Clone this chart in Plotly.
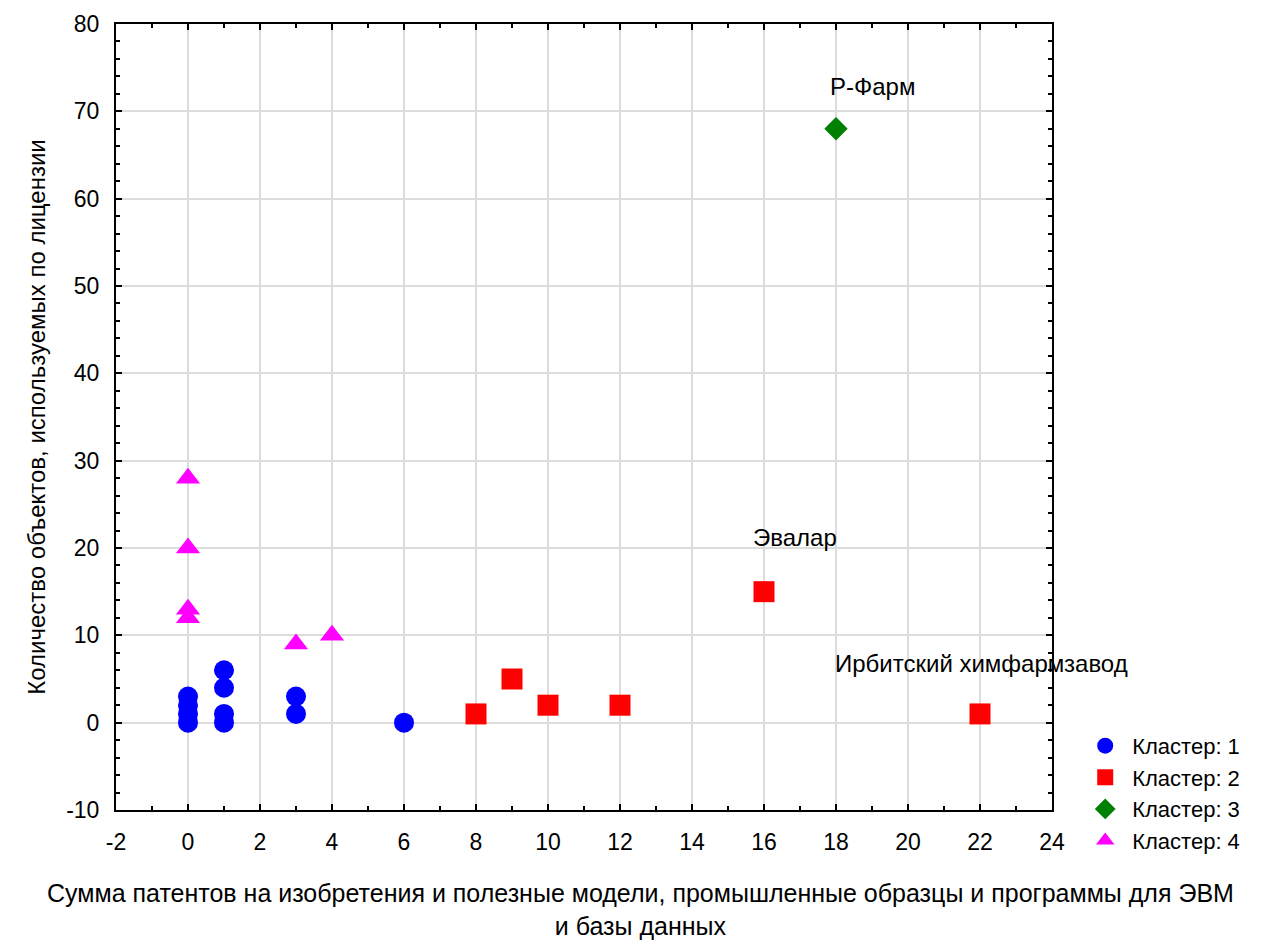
import plotly.graph_objects as go

# Cluster data
c1_x = [0, 0, 0, 0, 1, 1, 1, 1, 3, 3, 6]
c1_y = [0, 1, 2, 3, 4, 6, 0, 1, 1, 3, 0]
c2_x = [8, 9, 10, 12, 16, 22]
c2_y = [1, 5, 2, 2, 15, 1]
c3_x = [18]
c3_y = [68]
c4_x = [0, 0, 0, 0, 3, 4]
c4_y = [28, 20, 13, 12, 9, 10]

names = ["Кластер: 1", "Кластер: 2", "Кластер: 3", "Кластер: 4"]
labels = ["Р-Фарм", "Эвалар", "Ирбитский химфармзавод"]
label_x = [19.0, 16.85, 22.05]
label_y = [72.9, 21.2, 6.8]

x_ticks = [-2, 0, 2, 4, 6, 8, 10, 12, 14, 16, 18, 20, 22, 24]
y_ticks = [-10, 0, 10, 20, 30, 40, 50, 60, 70, 80]

FONT = "Liberation Sans, Arial, sans-serif"
FS = 23

fig = go.Figure()
fig.add_trace(go.Scatter(x=c1_x, y=c1_y, mode="markers", name=names[0],
                         marker=dict(symbol="circle", size=20, color="#0000FF")))
fig.add_trace(go.Scatter(x=c2_x, y=c2_y, mode="markers", name=names[1],
                         marker=dict(symbol="square", size=21, color="#FF0000")))
fig.add_trace(go.Scatter(x=c3_x, y=c3_y, mode="markers", name=names[2],
                         marker=dict(symbol="diamond", size=18, color="#008000")))
fig.add_trace(go.Scatter(x=c4_x, y=c4_y, mode="markers", name=names[3],
                         marker=dict(symbol="triangle-up", size=21, color="#FF00FF")))

for t, lx, ly in zip(labels, label_x, label_y):
    fig.add_annotation(x=lx, y=ly, text=t, showarrow=False,
                       font=dict(size=24, color="black", family=FONT))

fig.add_annotation(xref="paper", yref="paper", x=(640 - 116) / 936, y=-0.085,
                   text="Сумма патентов на изобретения и полезные модели, промышленные образцы и программы для ЭВМ<br>и базы данных",
                   showarrow=False, yanchor="top", xanchor="center",
                   font=dict(size=25, color="black", family=FONT))

axis_common = dict(showline=True, linecolor="black", linewidth=2, mirror="ticks",
                   ticks="inside", ticklen=6, tickwidth=1.5, tickcolor="black",
                   showgrid=True, gridcolor="#dcdcdc", gridwidth=1.5, zeroline=False,
                   ticklabelstandoff=10,
                   tickfont=dict(size=FS, color="black", family=FONT))

fig.update_xaxes(range=[-2, 24], tickmode="array", tickvals=x_ticks,
                 ticktext=[str(v) for v in x_ticks],
                 minor=dict(dtick=1, ticks="inside", ticklen=4, tickwidth=1.5,
                            tickcolor="black", showgrid=False),
                 **axis_common)
fig.update_yaxes(range=[-10, 80], tickmode="array", tickvals=y_ticks,
                 ticktext=[str(v) for v in y_ticks],
                 minor=dict(dtick=2, ticks="inside", ticklen=4, tickwidth=1.5,
                            tickcolor="black", showgrid=False),
                 title=dict(text="Количество объектов, используемых по лицензии",
                            font=dict(size=24, color="black", family=FONT), standoff=14),
                 **axis_common)

fig.update_layout(
    width=1287, height=942,
    margin=dict(l=108, r=243, t=16, b=140, autoexpand=False),
    plot_bgcolor="white", paper_bgcolor="white",
    font=dict(family=FONT, size=FS, color="black"),
    showlegend=True,
    legend=dict(x=1.028, y=-0.066, xanchor="left", yanchor="bottom",
                font=dict(size=22, color="black", family=FONT),
                itemwidth=44, tracegroupgap=0, bgcolor="rgba(0,0,0,0)"),
)

fig.write_html("out.html")
